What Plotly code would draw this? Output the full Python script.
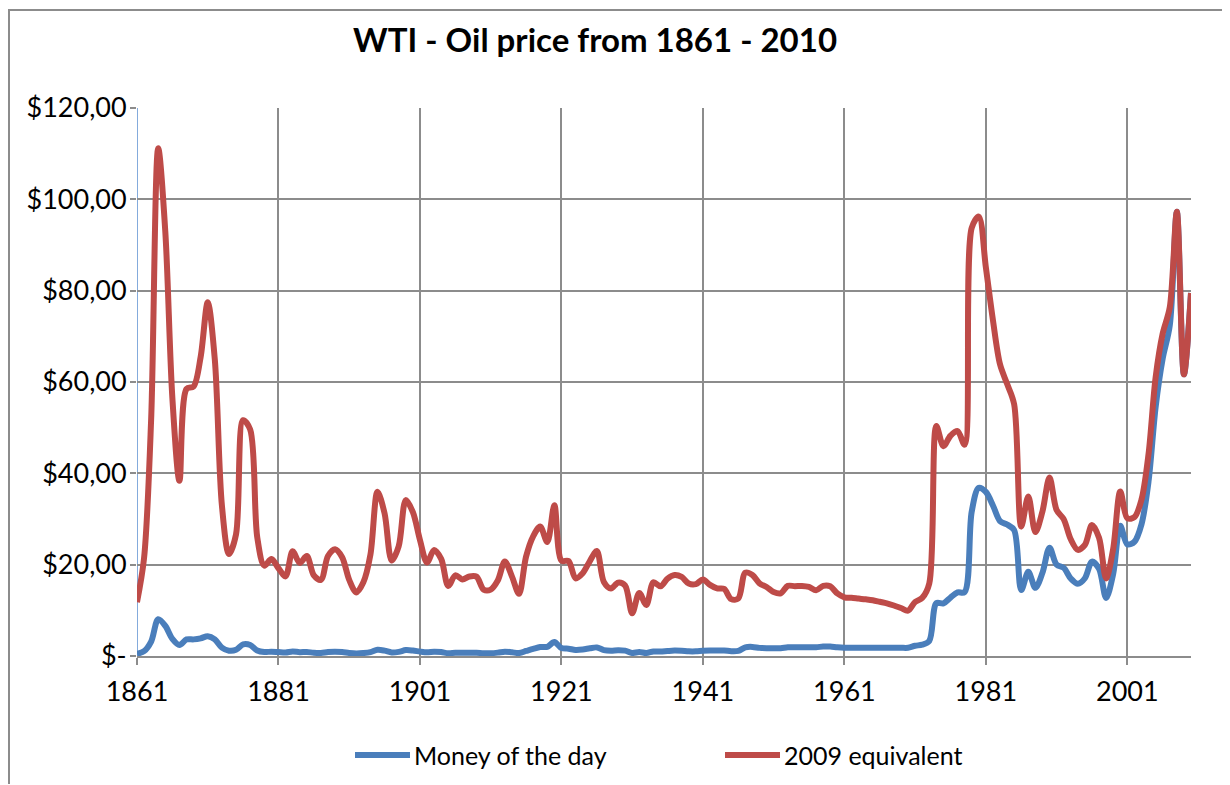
import plotly.graph_objects as go

years = list(range(1861, 2011))

money_of_the_day = [
    0.49, 1.05, 3.15, 8.06, 6.59, 3.74, 2.41, 3.63, 3.64, 3.86,
    4.34, 3.64, 1.83, 1.17, 1.35, 2.56, 2.42, 1.19, 0.86, 0.95,
    0.86, 0.78, 1.00, 0.84, 0.88, 0.71, 0.67, 0.88, 0.94, 0.87,
    0.67, 0.56, 0.64, 0.84, 1.36, 1.18, 0.79, 0.91, 1.29, 1.19,
    0.96, 0.80, 0.94, 0.86, 0.62, 0.73, 0.72, 0.72, 0.70, 0.61,
    0.61, 0.74, 0.95, 0.81, 0.64, 1.10, 1.56, 1.98, 2.01, 3.07,
    1.73, 1.61, 1.34, 1.43, 1.68, 1.88, 1.30, 1.17, 1.27, 1.19,
    0.65, 0.87, 0.67, 1.00, 0.97, 1.09, 1.18, 1.13, 1.02, 1.02,
    1.14, 1.19, 1.20, 1.21, 1.05, 1.12, 1.90, 1.99, 1.78, 1.71,
    1.71, 1.71, 1.93, 1.93, 1.93, 1.93, 1.90, 2.08, 2.08, 1.90,
    1.80, 1.80, 1.80, 1.80, 1.80, 1.80, 1.80, 1.80, 1.80, 1.80,
    2.24, 2.48, 3.29, 11.58, 11.53, 12.80, 13.92, 14.02, 31.61, 36.83,
    35.93, 32.97, 29.55, 28.78, 27.56, 14.43, 18.44, 14.92, 18.23, 23.73,
    20.00, 19.32, 16.97, 15.82, 17.02, 20.67, 19.09, 12.72, 17.97, 28.50,
    24.44, 25.02, 28.83, 38.27, 54.52, 65.14, 72.39, 97.26, 61.67, 79.50,
]

equivalent_2009 = [
    11.78, 21.46, 51.86, 111.18, 92.93, 56.51, 38.35, 58.48, 59.01, 65.51,
    77.44, 64.94, 33.01, 22.35, 26.65, 51.63, 49.59, 25.98, 19.78, 21.23,
    19.22, 17.43, 22.94, 20.39, 21.89, 17.66, 16.67, 21.89, 23.39, 21.64,
    16.67, 13.93, 16.13, 22.21, 35.99, 31.22, 20.91, 24.08, 34.14, 31.49,
    25.40, 20.47, 23.23, 21.27, 15.34, 17.67, 16.76, 17.42, 17.37, 14.54,
    14.54, 16.52, 20.70, 17.44, 13.63, 21.76, 26.20, 28.34, 24.96, 33.01,
    20.89, 20.79, 17.00, 18.12, 20.74, 22.99, 16.23, 14.79, 16.06, 15.42,
    9.34, 13.82, 11.16, 16.12, 15.25, 16.94, 17.72, 17.31, 15.86, 15.74,
    16.73, 15.58, 14.80, 14.69, 12.45, 12.59, 18.26, 17.74, 15.91, 15.11,
    14.01, 13.72, 15.35, 15.29, 15.35, 15.12, 14.40, 15.35, 15.26, 13.70,
    12.86, 12.74, 12.57, 12.41, 12.21, 11.87, 11.53, 11.06, 10.50, 9.93,
    11.84, 12.72, 15.89, 50.38, 45.95, 48.23, 49.26, 46.29, 93.74, 96.21,
    85.09, 73.54, 63.86, 59.60, 55.12, 28.33, 34.93, 27.14, 31.64, 39.07,
    31.97, 29.97, 25.56, 23.24, 24.32, 28.68, 25.88, 16.99, 23.48, 36.03,
    30.15, 30.40, 34.24, 44.27, 61.01, 70.62, 76.34, 97.26, 61.67, 79.50,
]

x_tick_years = [1861, 1881, 1901, 1921, 1941, 1961, 1981, 2001]
y_tick_values = [0, 20, 40, 60, 80, 100, 120]
y_tick_labels = ["$-", "$20,00", "$40,00", "$60,00", "$80,00", "$100,00", "$120,00"]

series_names = ["Money of the day", "2009 equivalent"]
series_colors = ["#4A7EBB", "#BE4B48"]

FONT = "Lato, Carlito, Calibri, sans-serif"
GRID = "#8C8C8C"

fig = go.Figure()
for name, vals, col in zip(series_names, [money_of_the_day, equivalent_2009], series_colors):
    fig.add_trace(go.Scatter(
        x=years, y=vals, mode="lines", name=name,
        line=dict(color=col, width=6, shape="spline", smoothing=0.9),
        showlegend=False, cliponaxis=False,
    ))

# target pixel positions in the 1230x785 page; the page body adds an 8px margin
OFF = 8
W, H = 1230 - OFF, 785 - OFF
L, R, T, B = 137, 1191, 108, 656

fig.update_layout(
    width=W, height=H,
    margin=dict(l=L - OFF, r=W - (R - OFF), t=T - OFF, b=H - (B - OFF), pad=0),
    paper_bgcolor="white", plot_bgcolor="white",
    font=dict(family=FONT, color="black", size=27),
)

fig.update_xaxes(
    range=[1861, 2010], tickmode="array", tickvals=x_tick_years,
    ticktext=[str(v) for v in x_tick_years],
    showgrid=True, gridcolor=GRID, gridwidth=1.5,
    showline=True, linecolor=GRID, linewidth=1.5,
    ticks="outside", ticklen=7, tickcolor=GRID, tickwidth=1.5,
    ticklabelstandoff=4,
    zeroline=False, tickfont=dict(size=27, family=FONT),
)
fig.update_yaxes(
    range=[0, 120], tickmode="array", tickvals=y_tick_values, ticktext=y_tick_labels,
    showgrid=True, gridcolor=GRID, gridwidth=1.5,
    showline=False,
    ticks="outside", ticklen=6, tickcolor=GRID, tickwidth=1.5,
    ticklabelstandoff=-2,
    zeroline=False, tickfont=dict(size=27, family=FONT),
)

# vertical axis line (blue) drawn over the 1861 gridline
fig.add_shape(type="line", xref="x", yref="paper", x0=1861, x1=1861, y0=0, y1=1,
              layer="between", line=dict(color="#5B8FD0", width=1.5))


def px_x(p):
    return (p - L) / (R - L)


def px_y(p):
    return (B - p) / (B - T)


# Title
fig.add_annotation(
    x=px_x(595), y=px_y(39), xref="paper", yref="paper",
    text="<b>WTI - Oil price from 1861 - 2010</b>", showarrow=False,
    font=dict(size=33, family=FONT, color="black"), xanchor="center", yanchor="middle",
)

# Legend (manual)
legend_items = [(355, 410, 412), (725, 780, 782)]
for (x0, x1, tx), name, col in zip(legend_items, series_names, series_colors):
    fig.add_shape(type="line", xref="paper", yref="paper",
                  x0=px_x(x0), x1=px_x(x1), y0=px_y(755), y1=px_y(755),
                  line=dict(color=col, width=6))
    fig.add_annotation(x=px_x(tx), y=px_y(755), xref="paper", yref="paper",
                       text=name, showarrow=False, xanchor="left", yanchor="middle",
                       font=dict(size=25, family=FONT, color="black"))

# Chart frame (top and left edges)
fig.add_shape(type="line", xref="paper", yref="paper", x0=px_x(8), x1=px_x(1229),
              y0=px_y(10), y1=px_y(10), line=dict(color=GRID, width=2))
fig.add_shape(type="line", xref="paper", yref="paper", x0=px_x(9), x1=px_x(9),
              y0=px_y(10), y1=px_y(784), line=dict(color=GRID, width=2))

fig.write_html("out.html")
